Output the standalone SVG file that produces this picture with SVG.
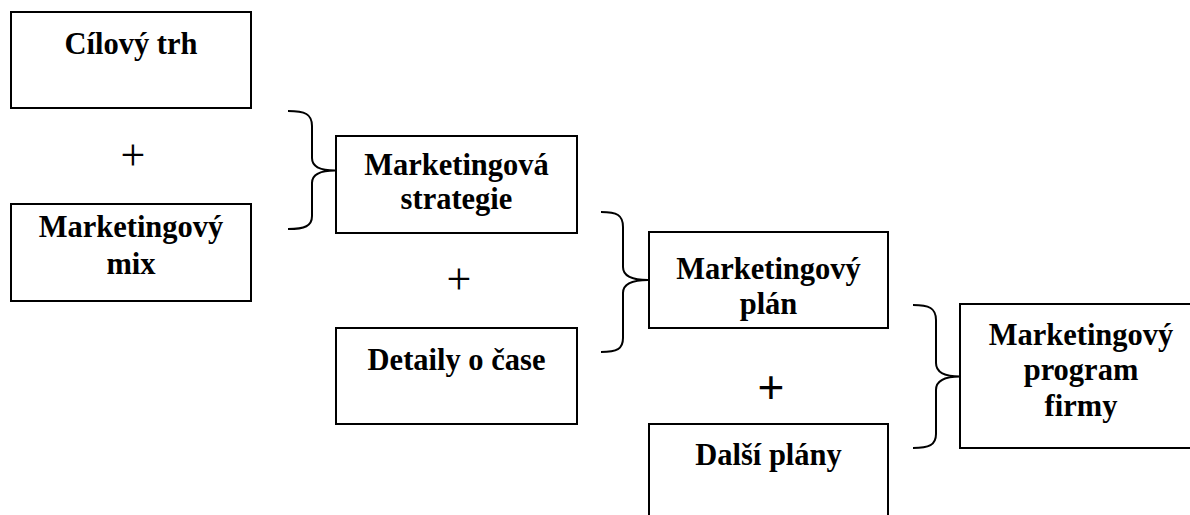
<svg xmlns="http://www.w3.org/2000/svg" width="1190" height="515" viewBox="0 0 1190 515">
<style>
.box{fill:#fff;stroke:#000;stroke-width:2}
.t{font-family:"Liberation Serif","Times New Roman",serif;font-weight:bold;font-size:30.5px;text-anchor:middle;fill:#000}
.plus{font-family:"Liberation Serif","Times New Roman",serif;font-size:44px;text-anchor:middle;fill:#000}
.plus2{font-family:"Liberation Sans",Arial,sans-serif;font-size:46px;text-anchor:middle;fill:#000}
.br{fill:none;stroke:#000;stroke-width:2}
</style>
<rect width="1190" height="515" fill="#fff"/>
<g id="n-cilovy-trh">
<rect class="box" x="11" y="12" width="240" height="96"/>
<text class="t" x="131" y="54">Cílový trh</text>
</g>
<g id="n-marketingovy-mix">
<rect class="box" x="11" y="204" width="240" height="97"/>
<text class="t" x="131" y="237">Marketingový</text>
<text class="t" x="131" y="274">mix</text>
</g>
<g id="n-strategie">
<rect class="box" x="336" y="136" width="241" height="97"/>
<text class="t" x="456.5" y="174.5">Marketingová</text>
<text class="t" x="456.5" y="209">strategie</text>
</g>
<g id="n-detaily">
<rect class="box" x="336" y="328" width="241" height="96"/>
<text class="t" x="456.5" y="370">Detaily o čase</text>
</g>
<g id="n-plan">
<rect class="box" x="649" y="232" width="239" height="96"/>
<text class="t" x="768.5" y="279">Marketingový</text>
<text class="t" x="768.5" y="313.5">plán</text>
</g>
<g id="n-dalsi">
<rect class="box" x="649" y="424" width="239" height="100"/>
<text class="t" x="768.5" y="465">Další plány</text>
</g>
<g id="n-program">
<rect class="box" x="960" y="304" width="240" height="144"/>
<text class="t" x="1081" y="345">Marketingový</text>
<text class="t" x="1081" y="380">program</text>
<text class="t" x="1081" y="416">firmy</text>
</g>
<g id="connectors">
<path class="br" d="M288,111 C305,111 312,114 312,126 L312,158 C312,166 320,170.5 335,170.5 C320,170.5 312,175 312,183 L312,216 C312,226 305,229 288,229"/>
<path class="br" d="M601,212 C617,212 623,215 623,227 L623,267 C623,275 631,280 648,280 C631,280 623,285 623,293 L623,338 C623,349 617,352 601,352"/>
<path class="br" d="M913,305 C929,305 936,308 936,320 L936,363 C936,372 944,376.5 960,376.5 C944,376.5 936,381 936,390 L936,434 C936,445 929,448 913,448"/>
<text class="plus" x="133" y="169.5">+</text>
<text class="plus" x="459" y="293.5">+</text>
<text class="plus2" x="771" y="403">+</text>
</g>
</svg>
